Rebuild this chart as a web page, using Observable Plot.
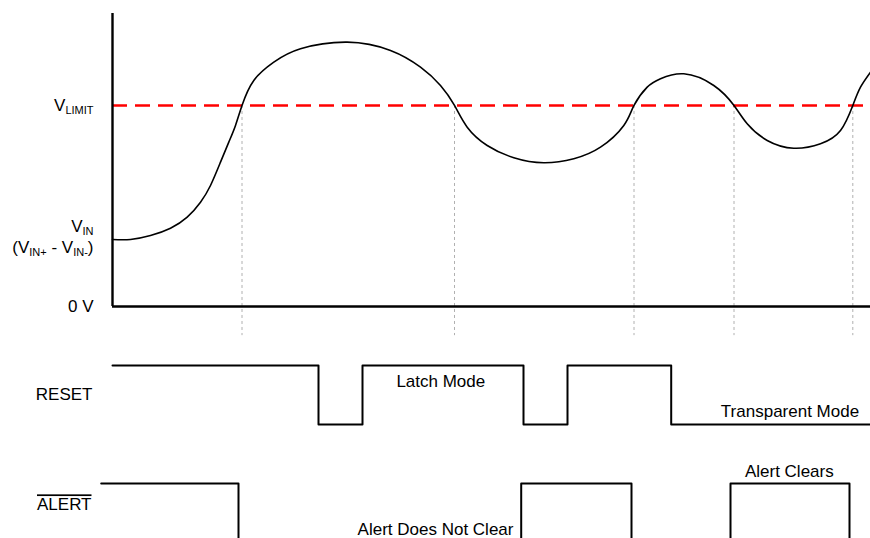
<!DOCTYPE html>
<html>
<head>
<meta charset="utf-8">
<script src="https://cdn.jsdelivr.net/npm/d3@7"></script>
<script src="https://cdn.jsdelivr.net/npm/@observablehq/plot@0.6"></script>
<style>
  html, body { margin: 0; padding: 0; background: #fff; }
  #chart { width: 870px; height: 538px; overflow: hidden; }
  #chart svg { display: block; }
  text { white-space: pre; }
</style>
</head>
<body>
<div id="chart"></div>
<script>
// ---- time axis (arbitrary time units) ----
const tMin = 0;
const tMax = 75.8;

// ---- V_IN panel ----
const vTop = 2.915;           // top of the V_IN axis
const vLimit = 2.0;           // V_LIMIT threshold
const vStart = 0.667;         // V_IN level at t = 0
const guideBottom = -0.29;    // where the dotted guides stop below 0 V
const vinTime  = [0, 1.8, 3.8, 5.8, 7.47, 8.8, 9.8, 10.8, 11.63, 12.3,
                  12.95, 14.13, 16.13, 18.8, 23.47, 27.8, 30.8, 32.8, 34.2, 35.47,
                  37.47, 40.13, 43.13, 46.13, 48.8, 51.13, 52.15, 53.47, 54.8, 57.13,
                  60.13, 62.15, 63.47, 65.47, 68.13, 70.8, 72.8, 74.03, 74.8, 75.8];
const vinVolts = [0.667, 0.667, 0.706, 0.779, 0.889, 1.038, 1.204, 1.436, 1.635, 1.801,
                  2.0, 2.249, 2.431, 2.564, 2.630, 2.547, 2.381, 2.199, 2.0, 1.784,
                  1.602, 1.480, 1.430, 1.470, 1.585, 1.801, 2.0, 2.182, 2.266, 2.315,
                  2.199, 2.0, 1.818, 1.652, 1.575, 1.619, 1.751, 2.0, 2.182, 2.331];
const crossTimes = [12.95, 34.2, 52.15, 62.15, 74.03];

// ---- RESET signal (1 = high, 0 = low) ----
const resetTime  = [0, 20.6, 25.0, 41.1, 45.5, 55.87, 75.8];
const resetLevel = [1, 0, 1, 0, 1, 0, 0];
const resetNotes = ["Latch Mode", "Transparent Mode"];
const resetNoteTime  = [32.83, 67.75];
const resetNoteLevel = [0.73, 0.22];

// ---- ALERT signal ----
const alertTime  = [-1.13, 12.6, 40.87, 51.9, 61.8, 73.7, 75.8];
const alertLevel = [1, 0, 1, 0, 1, 0, 0];
const alertNotes = ["Alert Does Not Clear", "Alert Clears"];
const alertNoteTime  = [32.3, 67.68];
const alertNoteLevel = [0.57, 1.112];

// ---- row labels ----
const vinLabels = ["V_{LIMIT}", "0 V"];
const vinLabelLevels = [vLimit, 0];
const resetLabel = "RESET";
const alertLabel = "~{ALERT}";

const FONT = "'Liberation Sans', Arial, Helvetica, sans-serif";
const FS = 17;

const zip = (xs, ys, extra) => xs.map((x, i) => ({x, y: ys[i], ...(extra ? {text: extra[i]} : {})}));

const common = {
  width: 870,
  marginLeft: 112,
  marginRight: 0,
  style: {fontFamily: FONT, fontSize: FS + "px", color: "#000", background: "#fff"}
};

// ---- Panel 1: V_IN ----
const p1 = Plot.plot({
  ...common,
  height: 340,
  marginTop: 13,
  marginBottom: 34,
  x: {domain: [tMin, tMax], range: [112, 870], axis: null},
  y: {domain: [0, vTop], range: [306, 13], axis: null},
  marks: [
    Plot.ruleX(crossTimes, {y1: vLimit, y2: guideBottom, stroke: "#b0b0b0", strokeWidth: 1, strokeDasharray: "3,3"}),
    Plot.ruleY([vLimit], {stroke: "#ff0000", strokeWidth: 2.5, strokeDasharray: "15,8"}),
    Plot.line(zip(vinTime, vinVolts), {x: "x", y: "y", curve: "natural", stroke: "#000", strokeWidth: 1.6}),
    Plot.ruleX([0], {stroke: "#000", strokeWidth: 2.4}),
    Plot.ruleY([0], {stroke: "#000", strokeWidth: 2.6}),
    Plot.text(vinLabels, {x: () => 0, y: (d, i) => vinLabelLevels[i], text: d => d, textAnchor: "end", dx: -19, fontSize: FS}),
    Plot.text(["V_{IN}"], {x: () => 0, y: () => vStart, text: d => d, textAnchor: "end", dx: -19, dy: -13, fontSize: FS}),
    Plot.text(["(V_{IN+} - V_{IN-})"], {x: () => 0, y: () => vStart, text: d => d, textAnchor: "end", dx: -19, dy: 8, fontSize: FS})
  ]
});

// ---- Panel 2: RESET ----
const p2 = Plot.plot({
  ...common,
  height: 100,
  marginTop: 25,
  marginBottom: 16,
  x: {domain: [tMin, tMax], range: [112, 870], axis: null},
  y: {domain: [0, 1], range: [84, 25], axis: null},
  marks: [
    Plot.line(zip(resetTime, resetLevel), {x: "x", y: "y", curve: "step-after", stroke: "#000", strokeWidth: 2}),
    Plot.text([resetLabel], {x: () => 0, y: () => 0.5, text: d => d, textAnchor: "end", dx: -20, fontSize: FS}),
    Plot.text(zip(resetNoteTime, resetNoteLevel, resetNotes), {x: "x", y: "y", text: "text", fontSize: FS})
  ]
});

// ---- Panel 3: ALERT ----
const p3 = Plot.plot({
  ...common,
  height: 98,
  marginTop: 43,
  marginBottom: 0,
  x: {domain: [tMin, tMax], range: [112, 870], axis: null},
  y: {domain: [0, 1], range: [150, 43], axis: null},
  marks: [
    Plot.line(zip(alertTime, alertLevel), {x: "x", y: "y", curve: "step-after", stroke: "#000", strokeWidth: 2}),
    Plot.text([alertLabel], {x: () => 0, y: () => 0.8, text: d => d, textAnchor: "end", dx: -21, fontSize: FS}),
    Plot.text(zip(alertNoteTime, alertNoteLevel, alertNotes), {x: "x", y: "y", text: "text", fontSize: FS})
  ]
});

// ---- rich text: V_{sub} subscripts and ~{overline} ----
function enrich(svg) {
  d3.select(svg).selectAll("text").each(function () {
    const el = this;
    const s = el.textContent;
    if (!/_\{|~\{/.test(s)) return;
    const parts = [];
    const re = /(_|~)\{([^}]*)\}/g;
    let last = 0, m;
    while ((m = re.exec(s))) {
      if (m.index > last) parts.push({t: s.slice(last, m.index), k: "n"});
      parts.push({t: m[2], k: m[1] === "_" ? "sub" : "over"});
      last = re.lastIndex;
    }
    if (last < s.length) parts.push({t: s.slice(last), k: "n"});
    while (el.firstChild) el.removeChild(el.firstChild);
    let shifted = false;
    for (const p of parts) {
      const ts = document.createElementNS("http://www.w3.org/2000/svg", "tspan");
      ts.textContent = p.t;
      if (p.k === "sub") {
        ts.setAttribute("font-size", "11");
        ts.style.fontSize = "11px";
        if (!shifted) { ts.setAttribute("dy", "3"); shifted = true; }
      } else {
        if (shifted) { ts.setAttribute("dy", "-3"); shifted = false; }
        if (p.k === "over") ts.style.textDecoration = "overline";
      }
      el.appendChild(ts);
    }
  });
}

const chart = document.getElementById("chart");
for (const p of [p1, p2, p3]) { enrich(p); chart.appendChild(p); }
</script>
</body>
</html>
